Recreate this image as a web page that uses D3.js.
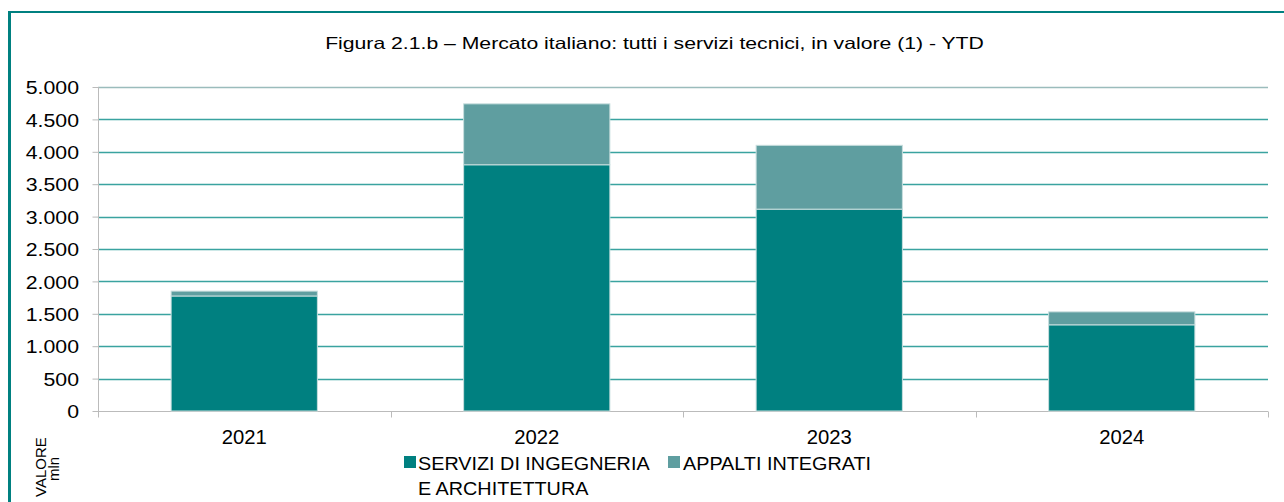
<!DOCTYPE html>
<html>
<head>
<meta charset="utf-8">
<script src="https://cdn.jsdelivr.net/npm/d3@7/dist/d3.min.js"></script>
<style>
  body { margin: 0; background: #fff; }
  text { font-family: "Liberation Sans", Arial, sans-serif; fill: #000; }
</style>
</head>
<body>
<div id="chart"></div>
<script>
// data (milioni di euro)
var years = ["2021", "2022", "2023", "2024"];
var servizi = [1775, 3800, 3115, 1330];
var appalti = [75, 940, 985, 200];
var yTicks = [0, 500, 1000, 1500, 2000, 2500, 3000, 3500, 4000, 4500, 5000];
var seriesNames = ["SERVIZI DI INGEGNERIA", "APPALTI INTEGRATI"];
var seriesColors = ["#008080", "#5f9ea0"];

const W = 1284, H = 502;
const plot = {left: 98, right: 1268, top: 87, bottom: 411};

var svg = d3.select("#chart").append("svg")
    .attr("width", W)
    .attr("height", H);

// text in the original is a bit wider than Liberation Sans, so stretch it horizontally
function label(g, x, y, size, sx, anchor, txt) {
    return g.append("text")
        .attr("transform", "translate(" + x + "," + y + ") scale(" + sx + ",1)")
        .attr("text-anchor", anchor)
        .style("font-size", size + "px")
        .text(txt);
}

// frame
svg.append("rect").attr("x", 8).attr("y", 11).attr("width", W - 8).attr("height", 2).attr("fill", "#008080");
svg.append("rect").attr("x", 8).attr("y", 11).attr("width", 3).attr("height", H - 11).attr("fill", "#008080");

// title
label(svg, 654.5, 49, 16.3, 1.3, "middle",
    "Figura 2.1.b \u2013 Mercato italiano: tutti i servizi tecnici, in valore (1) - YTD");

var x = d3.scaleBand()
    .domain(years)
    .range([plot.left, plot.right])
    .paddingInner(0.5)
    .paddingOuter(0.25);

var y = d3.scaleLinear()
    .domain([0, 5000])
    .range([plot.bottom, plot.top]);

// gridlines
svg.append("g").selectAll("line")
    .data(yTicks.filter(d => d > 0))
    .enter().append("line")
    .attr("x1", plot.left)
    .attr("x2", plot.right)
    .attr("y1", d => Math.round(y(d)) + 0.5)
    .attr("y2", d => Math.round(y(d)) + 0.5)
    .attr("stroke", d => d == 5000 ? "#9bbcbc" : "#3aa3a0")
    .attr("stroke-width", 1.3);

// y axis
var yAxis = d3.axisLeft(y)
    .tickValues(yTicks)
    .tickSize(6)
    .tickFormat(d => d3.format(",")(d).replace(/,/g, "."));

var gy = svg.append("g")
    .attr("transform", "translate(" + (plot.left + 0.5) + ",0)")
    .call(yAxis);
gy.select(".domain").attr("stroke", "#bbb").attr("d", "M0," + plot.top + "V" + plot.bottom);
gy.selectAll(".tick line").attr("stroke", "#bbb");
gy.selectAll(".tick text")
    .attr("x", 0)
    .attr("dy", "0.36em")
    .attr("transform", "translate(-19.5,0) scale(1.15,1)")
    .style("font-size", "18.5px");

// x axis with ticks between the categories
var gx = svg.append("g")
    .attr("transform", "translate(0," + (plot.bottom + 0.5) + ")");
gx.append("line")
    .attr("x1", plot.left).attr("x2", plot.right)
    .attr("stroke", "#bbb");
var bounds = d3.range(years.length + 1).map(i => plot.left + i * x.step());
gx.selectAll(".bt")
    .data(bounds)
    .enter().append("line")
    .attr("x1", d => Math.round(d) + 0.5)
    .attr("x2", d => Math.round(d) + 0.5)
    .attr("y1", 0).attr("y2", 6)
    .attr("stroke", "#bbb");
years.forEach(function(yr) {
    label(gx, x(yr) + x.bandwidth() / 2, 32.5, 19.5, 1.04, "middle", yr);
});

// stacked bars
var rows = years.map((yr, i) => ({year: yr, servizi: servizi[i], appalti: appalti[i]}));
var stack = d3.stack().keys(["servizi", "appalti"])(rows);

svg.append("g").selectAll("g")
    .data(stack)
    .enter().append("g")
    .attr("fill", (d, i) => seriesColors[i])
    .selectAll("rect")
    .data(d => d)
    .enter().append("rect")
    .attr("x", d => x(d.data.year))
    .attr("width", x.bandwidth())
    .attr("y", d => y(d[1]))
    .attr("height", d => y(d[0]) - y(d[1]))
    .attr("stroke", "#c8dede")
    .attr("stroke-width", 1);

// y axis title
var yt = svg.append("g").attr("transform", "translate(46,497) rotate(-90)");
yt.append("text").attr("x", 0).attr("y", 0).style("font-size", "15px").text("VALORE");
yt.append("text").attr("x", 16).attr("y", 13).style("font-size", "15px").text("mln");

// legend
var legend = svg.append("g");
legend.append("rect").attr("x", 404).attr("y", 456).attr("width", 12).attr("height", 12).attr("fill", seriesColors[0]);
label(legend, 418, 469.5, 18, 1.1, "start", seriesNames[0]);
label(legend, 418, 495, 18, 1.1, "start", "E ARCHITETTURA");
legend.append("rect").attr("x", 668).attr("y", 456).attr("width", 12).attr("height", 12).attr("fill", seriesColors[1]);
label(legend, 683, 469.5, 18, 1.1, "start", seriesNames[1]);
</script>
</body>
</html>
